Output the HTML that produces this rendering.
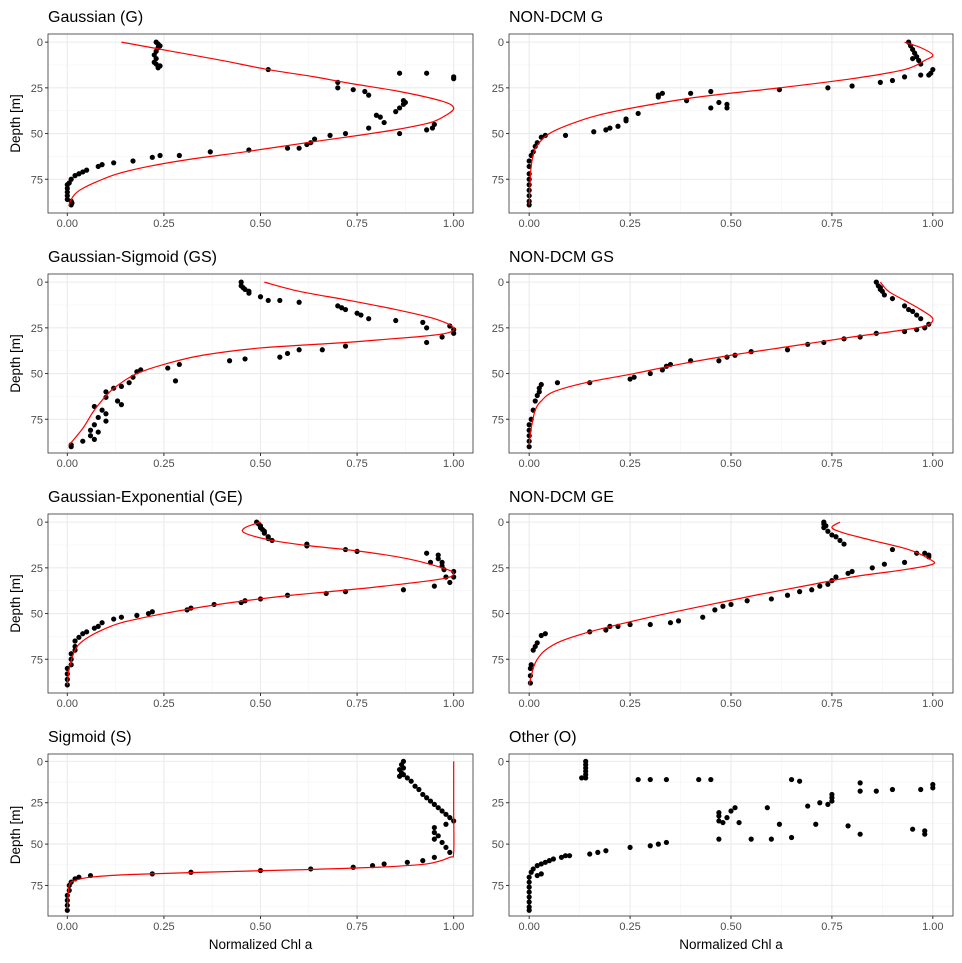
<!DOCTYPE html>
<html><head><meta charset="utf-8"><style>
body{margin:0;background:#fff}
svg{font-family:"Liberation Sans",sans-serif}
</style></head><body>
<svg id="c" width="962" height="958"></svg>
<script>
const xTicks=[0,0.25,0.5,0.75,1];
const xTickLabels=["0.00","0.25","0.50","0.75","1.00"];
const yTicks=[0,25,50,75];
const yTickLabels=["0","25","50","75"];
const titles=["Gaussian (G)","NON-DCM G","Gaussian-Sigmoid (GS)","NON-DCM GS","Gaussian-Exponential (GE)","NON-DCM GE","Sigmoid (S)","Other (O)"];

const gPts=[[0.23,0],[0.235,1],[0.24,2],[0.235,3],[0.23,5],[0.225,7],[0.23,9],[0.225,11],[0.23,12],[0.24,13],[0.235,14],[0.52,15],[0.70,22],[0.70,25],[0.74,26],[0.77,27],[0.78,29],[0.86,17],[0.93,17],[1.0,19],[1.0,20],[0.87,32],[0.875,33],[0.87,34],[0.86,36],[0.85,38],[0.80,40],[0.81,41],[0.82,44],[0.78,47],[0.72,50],[0.93,48],[0.95,45],[0.945,47],[0.86,50],[0.68,51],[0.64,53],[0.63,55],[0.62,56],[0.57,58],[0.60,58],[0.47,59],[0.37,60],[0.29,62],[0.24,62],[0.22,63],[0.17,65],[0.12,66],[0.09,67],[0.08,68],[0.05,70],[0.04,71],[0.03,72],[0.02,73],[0.01,75],[0.005,77],[0,78],[0,80],[0,82],[0,84],[0,86],[0.01,87],[0.012,88],[0.01,89]];
const gCurve=[[0.14,0],[0.27,5],[0.4,10],[0.52,15],[0.64,19],[0.73,22.5],[0.86,27],[0.97,32.3],[1.0,36],[0.98,40],[0.94,44],[0.86,47.5],[0.77,50.5],[0.62,55],[0.47,59.7],[0.32,64],[0.21,68],[0.13,72],[0.08,76],[0.04,80],[0.019,83.3],[0.008,87],[0.004,89.7]];

const ngPts=[[0.94,0],[0.945,2],[0.95,4],[0.955,6],[0.96,8],[0.965,10],[0.97,12],[0.95,9],[1.0,15],[0.995,17],[0.99,18],[0.97,18],[0.93,19],[0.90,21],[0.87,22],[0.80,24],[0.74,25],[0.62,26],[0.49,34],[0.49,36],[0.47,33],[0.45,36],[0.45,27],[0.40,28],[0.39,32],[0.33,28],[0.32,29],[0.32,30],[0.27,39],[0.24,42],[0.24,43],[0.22,46],[0.20,47],[0.16,49],[0.19,48],[0.09,51],[0.04,51],[0.03,52],[0.02,55],[0.015,57],[0.01,60],[0.005,62],[0,65],[0,68],[0,72],[0,75],[0,78],[0,81],[0,84],[0,87],[0,89]];
const ngCurve=[[0.93,0],[0.97,3],[1.0,7],[0.98,10],[0.93,15],[0.8,20],[0.62,25],[0.42,30],[0.28,35],[0.17,40],[0.1,45],[0.05,50],[0.025,55],[0.012,60],[0.004,70],[0,89]];

const gsPts=[[0.45,0],[0.45,2],[0.455,3],[0.46,4],[0.47,5],[0.47,6],[0.50,8],[0.52,10],[0.55,10],[0.60,11],[0.70,13],[0.71,14],[0.72,15],[0.75,17],[0.76,18],[0.78,20],[0.85,21],[0.99,24],[0.92,22],[0.93,25],[1.0,26],[1.0,28],[0.97,30],[0.93,33],[0.72,35],[0.66,37],[0.60,37],[0.57,39],[0.55,41],[0.46,42],[0.42,43],[0.29,45],[0.26,47],[0.19,48],[0.18,49],[0.17,52],[0.28,54],[0.16,55],[0.14,57],[0.12,58],[0.10,60],[0.10,63],[0.13,65],[0.14,67],[0.07,68],[0.09,70],[0.10,72],[0.08,74],[0.10,76],[0.07,78],[0.06,81],[0.08,82],[0.06,84],[0.07,86],[0.04,87],[0.01,89],[0.01,90]];
const gsCurve=[[0.51,0],[0.6,5],[0.73,10],[0.85,15],[0.95,20],[1.0,25],[0.98,28],[0.9,30],[0.72,33],[0.5,36],[0.35,40],[0.25,45],[0.18,50],[0.14,55],[0.11,60],[0.07,70],[0.04,80],[0.005,89]];

const ngsPts=[[0.86,0],[0.865,2],[0.87,3],[0.87,4],[0.875,5],[0.88,7],[0.90,9],[0.93,13],[0.94,15],[0.95,16],[0.96,18],[0.97,20],[0.99,23],[0.98,25],[0.96,26],[0.93,27],[0.86,28],[0.82,30],[0.78,31],[0.73,33],[0.69,34],[0.64,37],[0.55,38],[0.51,40],[0.49,41],[0.47,43],[0.40,43],[0.35,45],[0.34,46],[0.33,48],[0.30,50],[0.26,52],[0.25,53],[0.15,55],[0.07,55],[0.03,56],[0.025,58],[0.025,60],[0.02,62],[0.015,65],[0.01,70],[0.005,75],[0,78],[0,81],[0,84],[0,87],[0,90]];
const ngsCurve=[[0.87,0],[0.89,5],[0.93,10],[0.97,15],[1.0,20],[0.98,24],[0.9,27],[0.8,30],[0.65,35],[0.5,40],[0.37,45],[0.26,50],[0.14,55],[0.06,60],[0.03,65],[0.015,70],[0.005,80],[0,89]];

const gePts=[[0.49,0],[0.495,1],[0.50,2],[0.50,3],[0.505,4],[0.51,5],[0.51,6],[0.52,8],[0.52,9],[0.53,10],[0.62,12],[0.62,13],[0.72,15],[0.75,16],[0.93,17],[0.96,18],[0.96,20],[0.97,22],[0.97,24],[0.975,26],[0.94,22],[1.0,27],[1.0,30],[0.98,30],[0.99,33],[0.95,35],[0.87,37],[0.72,38],[0.67,39],[0.57,40],[0.50,42],[0.46,43],[0.45,44],[0.38,45],[0.32,47],[0.31,48],[0.22,49],[0.21,50],[0.18,51],[0.14,52],[0.12,53],[0.09,55],[0.08,57],[0.07,58],[0.05,60],[0.04,61],[0.03,63],[0.02,65],[0.02,68],[0.02,70],[0.01,72],[0.01,75],[0.01,78],[0,80],[0,83],[0,86],[0,89]];
const geCurve=[[0.5,0],[0.46,3],[0.46,6],[0.53,10],[0.63,13],[0.76,16],[0.88,20],[0.97,25],[1.0,28],[0.97,31],[0.82,35],[0.68,38],[0.58,40],[0.46,43],[0.36,46],[0.25,50],[0.14,55],[0.08,60],[0.04,65],[0.02,70],[0.005,80],[0,89]];

const ngePts=[[0.73,0],[0.73,1],[0.735,2],[0.73,3],[0.74,5],[0.75,7],[0.76,8],[0.77,10],[0.78,12],[0.90,15],[0.96,17],[0.98,17],[0.99,18],[0.99,19],[0.93,22],[0.88,23],[0.85,25],[0.80,27],[0.79,28],[0.76,30],[0.75,32],[0.74,34],[0.72,35],[0.70,37],[0.67,38],[0.64,40],[0.60,42],[0.54,43],[0.50,45],[0.48,46],[0.46,48],[0.43,52],[0.37,54],[0.35,55],[0.30,56],[0.25,56],[0.22,57],[0.20,57],[0.19,59],[0.15,60],[0.04,61],[0.03,62],[0.02,66],[0.015,68],[0.01,70],[0.005,78],[0.003,80],[0.003,84],[0.003,88]];
const ngeCurve=[[0.77,0],[0.75,3],[0.78,6],[0.85,10],[0.94,15],[0.99,20],[1.0,23],[0.93,26],[0.8,30],[0.68,35],[0.56,40],[0.45,45],[0.34,50],[0.24,55],[0.15,60],[0.08,65],[0.04,70],[0.02,75],[0.01,80],[0,89]];

const sPts=[[0.87,0],[0.865,2],[0.87,4],[0.86,5],[0.865,7],[0.87,8],[0.86,9],[0.88,10],[0.89,12],[0.90,15],[0.91,17],[0.92,20],[0.93,22],[0.94,24],[0.95,26],[0.96,28],[0.97,30],[0.98,32],[0.99,34],[1.0,36],[0.98,38],[0.95,40],[0.95,43],[0.95,47],[0.96,45],[0.97,49],[0.98,52],[0.99,55],[0.95,58],[0.92,60],[0.88,61],[0.82,62],[0.79,63],[0.74,64],[0.63,65],[0.50,66],[0.32,67],[0.22,68],[0.06,69],[0.03,70],[0.02,71],[0.01,73],[0.005,75],[0.005,78],[0,81],[0,84],[0,87],[0,90]];
const sCurve=[[1.0,0],[1.0,30],[1.0,55],[0.99,58],[0.93,62],[0.8,64],[0.6,65.5],[0.35,67],[0.15,68.5],[0.06,70],[0.02,72],[0.005,75],[0,89]];

const oPts=[[0.14,0],[0.14,2],[0.14,4],[0.14,6],[0.14,8],[0.14,10],[0.13,10],[0.27,11],[0.30,11],[0.34,11],[0.42,11],[0.45,11],[0.65,11],[0.67,12],[0.82,13],[0.82,18],[0.86,18],[0.90,17],[0.97,17],[1.0,14],[1.0,16],[0.75,20],[0.75,22],[0.75,24],[0.72,25],[0.74,26],[0.69,27],[0.59,28],[0.51,28],[0.50,30],[0.47,31],[0.47,33],[0.47,36],[0.49,34],[0.48,37],[0.52,37],[0.71,38],[0.62,38],[0.79,39],[0.82,44],[0.95,41],[0.98,42],[0.98,44],[0.47,47],[0.55,47],[0.60,47],[0.65,46],[0.34,49],[0.32,50],[0.30,51],[0.25,52],[0.19,54],[0.17,55],[0.15,56],[0.10,57],[0.09,57],[0.08,58],[0.06,59],[0.05,60],[0.04,61],[0.03,62],[0.02,63],[0.01,65],[0.005,67],[0.03,68],[0.02,69],[0,70],[0,73],[0,76],[0,79],[0,82],[0,85],[0,88],[0,90]];

const panelPts=[gPts,ngPts,gsPts,ngsPts,gePts,ngePts,sPts,oPts];
const panelCurves=[gCurve,ngCurve,gsCurve,ngsCurve,geCurve,ngeCurve,sCurve,null];
const names=["g","non-dcm-g","gs","non-dcm-gs","ge","non-dcm-ge","s","o"];

const NS="http://www.w3.org/2000/svg";
const svg=document.getElementById('c');
function mk(tag,attrs,parent){const e=document.createElementNS(NS,tag);for(const k in attrs)e.setAttribute(k,attrs[k]);(parent||svg).appendChild(e);return e;}
function smooth(P){
  let d='M'+P[0][0]+','+P[0][1];
  for(let i=0;i<P.length-1;i++){
    const p0=P[i-1]||P[i],p1=P[i],p2=P[i+1],p3=P[i+2]||P[i+1];
    const c1=[p1[0]+(p2[0]-p0[0])/6,p1[1]+(p2[1]-p0[1])/6];
    const c2=[p2[0]-(p3[0]-p1[0])/6,p2[1]-(p3[1]-p1[1])/6];
    d+=' C'+c1[0]+','+c1[1]+' '+c2[0]+','+c2[1]+' '+p2[0]+','+p2[1];
  }
  return d;
}
const cols=[[48,473],[509,953]];
const rows=[[34,213],[274,453],[514,693],[754,916]];
const D0=-4.45,D1=93.45,X0=-0.05,X1=1.05;
for(let i=0;i<8;i++){
  const c=cols[i%2],r=rows[Math.floor(i/2)];
  const g=mk('g',{});
  
  
  const xs=v=>c[0]+(v-X0)/(X1-X0)*(c[1]-c[0]);
  const ys=d=>r[0]+(d-D0)/(D1-D0)*(r[1]-r[0]);
  mk('rect',{x:c[0],y:r[0],width:c[1]-c[0],height:r[1]-r[0],fill:'#fff'},g);
  for(let k=0;k<4;k++){const m=(xTicks[k]+xTicks[k+1])/2;mk('line',{x1:xs(m),x2:xs(m),y1:r[0],y2:r[1],stroke:'#f3f3f3','stroke-width':0.6},g);}
  for(let k=0;k<4;k++){const m=yTicks[k]+12.5;mk('line',{x1:c[0],x2:c[1],y1:ys(m),y2:ys(m),stroke:'#f3f3f3','stroke-width':0.6},g);}
  xTicks.forEach((v,k)=>{
    mk('line',{x1:xs(v),x2:xs(v),y1:r[0],y2:r[1],stroke:'#ebebeb','stroke-width':1.1},g);
    mk('line',{x1:xs(v),x2:xs(v),y1:r[1],y2:r[1]+3,stroke:'#333','stroke-width':1},g);
    const t=mk('text',{x:xs(v),y:r[1]+14,'text-anchor':'middle','font-size':11,fill:'#4d4d4d'},g);t.textContent=xTickLabels[k];
    
    
  });
  yTicks.forEach((v,k)=>{
    mk('line',{x1:c[0],x2:c[1],y1:ys(v),y2:ys(v),stroke:'#ebebeb','stroke-width':1.1},g);
    mk('line',{x1:c[0]-3,x2:c[0],y1:ys(v),y2:ys(v),stroke:'#333','stroke-width':1},g);
    const t=mk('text',{x:c[0]-5,y:ys(v)+4,'text-anchor':'end','font-size':11,fill:'#4d4d4d'},g);t.textContent=yTickLabels[k];
    
    
  });
  panelPts[i].forEach(p=>{
    const cc=mk('circle',{cx:xs(p[0]),cy:ys(p[1]),r:2.6,fill:'#000'},g);
    
    
  });
  if(panelCurves[i]){
    const pl=mk('path',{d:smooth(panelCurves[i].map(p=>[xs(p[0]),ys(p[1])])),fill:'none',stroke:'#ff0000','stroke-width':1.2,'stroke-linejoin':'round'},g);
    
    
  }
  mk('rect',{x:c[0],y:r[0],width:c[1]-c[0],height:r[1]-r[0],fill:'none',stroke:'#333','stroke-width':0.8},g);
  const tt=mk('text',{x:c[0],y:r[0]-12,'font-size':16,fill:'#000'},g);tt.textContent=titles[i];
  
  
  if(i%2==0){
    const cy=(r[0]+r[1])/2;
    const yl=mk('text',{x:20,y:cy,'text-anchor':'middle','font-size':13.5,fill:'#000',transform:'rotate(-90 20 '+cy+')'},g);yl.textContent='Depth [m]';
    
    
  }
}
[[260.5],[731]].forEach(v=>{
  const t=mk('text',{x:v[0],y:949,'text-anchor':'middle','font-size':13.5,fill:'#000'});t.textContent='Normalized Chl a';
  
  
});
</script>
</body></html>
